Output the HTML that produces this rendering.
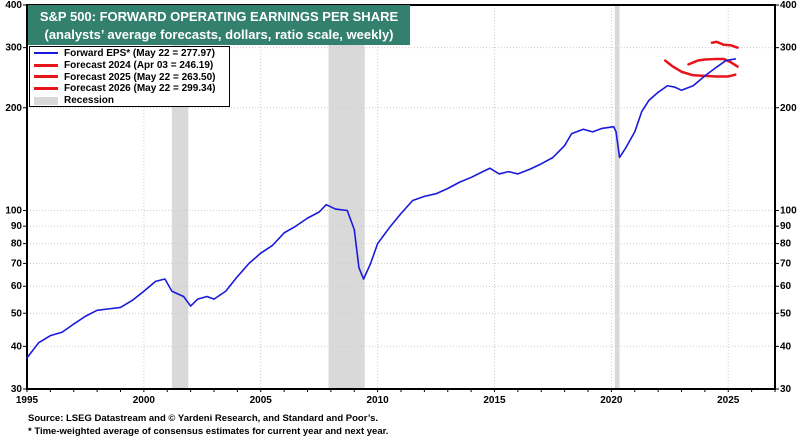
<!DOCTYPE html>
<html><head><meta charset="utf-8"><style>
body{margin:0;background:#fff;width:800px;height:438px;overflow:hidden;font-family:"Liberation Sans",sans-serif}
svg text{font-family:"Liberation Sans",sans-serif}
</style></head><body>
<svg id="c" width="800" height="438"></svg>
<script>
const yearsEPS=[1995,1995.5,1996,1996.5,1997,1997.5,1998,1998.5,1999,1999.5,2000,2000.5,2000.9,2001.2,2001.7,2002,2002.3,2002.7,2003,2003.5,2004,2004.5,2005,2005.5,2006,2006.5,2007,2007.5,2007.8,2008.2,2008.7,2009.0,2009.2,2009.4,2009.7,2010,2010.5,2011,2011.5,2012,2012.5,2013,2013.5,2014,2014.5,2014.8,2015.2,2015.6,2016,2016.5,2017,2017.5,2018,2018.3,2018.8,2019.2,2019.6,2020.1,2020.2,2020.35,2020.6,2021,2021.3,2021.6,2022,2022.4,2022.7,2023,2023.5,2024,2024.5,2024.9,2025.3];
const valsEPS=[37,41,43,44,46.5,49,51,51.5,52,54.5,58,62,63,58,56,52.5,55,56,55,58,64,70,75,79,86,90,95,99,104,101,100,88,68,63,70,80,89,98,107,110,112,116,121,125,130,133,128,130,128,132,137,143,155,168,173,170,174,176,170,143,152,170,195,210,222,232,230,225,232,248,263,275,278];
const yearsF1=[2022.3,2022.6,2023,2023.5,2024,2024.5,2025,2025.3];
const valsF1=[275,265,255,249,248,247,247,250];
const yearsF2=[2023.3,2023.7,2024,2024.5,2024.8,2025.1,2025.4];
const valsF2=[268,275,277,278,278,272,264];
const yearsF3=[2024.3,2024.5,2024.8,2025.1,2025.4];
const valsF3=[310,312,306,305,300];
const recessions=[[2001.2,2001.9],[2007.9,2009.45],[2020.15,2020.35]];
const yTicks=[30,40,50,60,70,80,90,100,200,300,400];
const xTicks=[1995,2000,2005,2010,2015,2020,2025];
const L=27,R=775,T=5,B=389;
const X=y=>L+(y-1995)*(R-L)/32;
const Y=v=>B-Math.log(v/30)/Math.log(400/30)*(B-T);
const svg=document.getElementById('c');const NS='http://www.w3.org/2000/svg';
function el(t,a,p){const e=document.createElementNS(NS,t);for(const k in a)e.setAttribute(k,a[k]);(p||svg).appendChild(e);return e;}
recessions.forEach(r=>{const e=el('rect',{x:X(r[0]),y:T,width:X(r[1])-X(r[0]),height:B-T,fill:'#d9d9d9'});

});
yTicks.forEach(v=>{const y=Y(v);
if(v>30&&v<400){const g=el('line',{x1:L,x2:R,y1:y,y2:y,stroke:'#ccc','stroke-dasharray':'1,2'});}
const t=el('text',{x:L-5,y:y+3,'text-anchor':'end','font-size':'10','font-weight':'bold'});t.textContent=v;


const t2=el('text',{x:R+5,y:y+3,'font-size':'10','font-weight':'bold'});t2.textContent=v;


el('line',{x1:L-4,x2:L,y1:y,y2:y,stroke:'#000'});el('line',{x1:R,x2:R+4,y1:y,y2:y,stroke:'#000'});});
xTicks.forEach(v=>{const x=X(v);
if(v>1995){const g=el('line',{x1:x,x2:x,y1:T,y2:B,stroke:'#ccc','stroke-dasharray':'1,2'});}
const t=el('text',{x:x,y:B+14,'text-anchor':'middle','font-size':'10','font-weight':'bold'});t.textContent=v;

});
for(let yr=1995;yr<=2027;yr++)el('line',{x1:X(yr),x2:X(yr),y1:B,y2:B+3,stroke:'#000'});
el('rect',{x:L,y:T,width:R-L,height:B-T,fill:'none',stroke:'#000','stroke-width':2});
function line(xs,vs,c,w,name){const p=el('polyline',{points:xs.map((x,i)=>X(x)+','+Y(vs[i])).join(' '),fill:'none',stroke:c,'stroke-width':w,'stroke-linejoin':'round','stroke-linecap':'round'});

}
line(yearsF1,valsF1,'#e8141a',2.5,'forecast-2024-line');
line(yearsF2,valsF2,'#e8141a',2.5,'forecast-2025-line');
line(yearsF3,valsF3,'#e8141a',2.5,'forecast-2026-line');
line(yearsEPS,valsEPS,'#1a1adb',1.6,'forward-eps-line');
</script>
<div style="position:absolute;left:28px;top:5px;width:382px;height:40px;background:#33806e;color:#fff;font-weight:bold;font-size:13px;text-align:center;line-height:18px;padding-top:3px;box-sizing:border-box">S&amp;P 500: FORWARD OPERATING EARNINGS PER SHARE<br>(analysts’ average forecasts, dollars, ratio scale, weekly)</div>
<div style="position:absolute;left:29px;top:46px;width:201px;height:61px;background:#fff;border:1px solid #000;font-size:10px;font-weight:bold;line-height:11.8px;padding:1px 0 0 4px;box-sizing:border-box">
<div><span style="display:inline-block;width:24px;height:2px;background:#1a1adb;vertical-align:middle;margin-right:6px"></span>Forward EPS* (May 22 = 277.97)</div>
<div><span style="display:inline-block;width:24px;height:3px;background:#e8141a;vertical-align:middle;margin-right:6px"></span>Forecast 2024 (Apr 03 = 246.19)</div>
<div><span style="display:inline-block;width:24px;height:3px;background:#e8141a;vertical-align:middle;margin-right:6px"></span>Forecast 2025 (May 22 = 263.50)</div>
<div><span style="display:inline-block;width:24px;height:3px;background:#e8141a;vertical-align:middle;margin-right:6px"></span>Forecast 2026 (May 22 = 299.34)</div>
<div><span style="display:inline-block;width:24px;height:8px;background:#d9d9d9;vertical-align:middle;margin-right:6px"></span>Recession</div>
</div>
<div style="position:absolute;left:28px;top:412px;font-size:9.5px;font-weight:bold;line-height:13px">Source: LSEG Datastream and © Yardeni Research, and Standard and Poor’s.<br>* Time-weighted average of consensus estimates for current year and next year.</div>
</body></html>
